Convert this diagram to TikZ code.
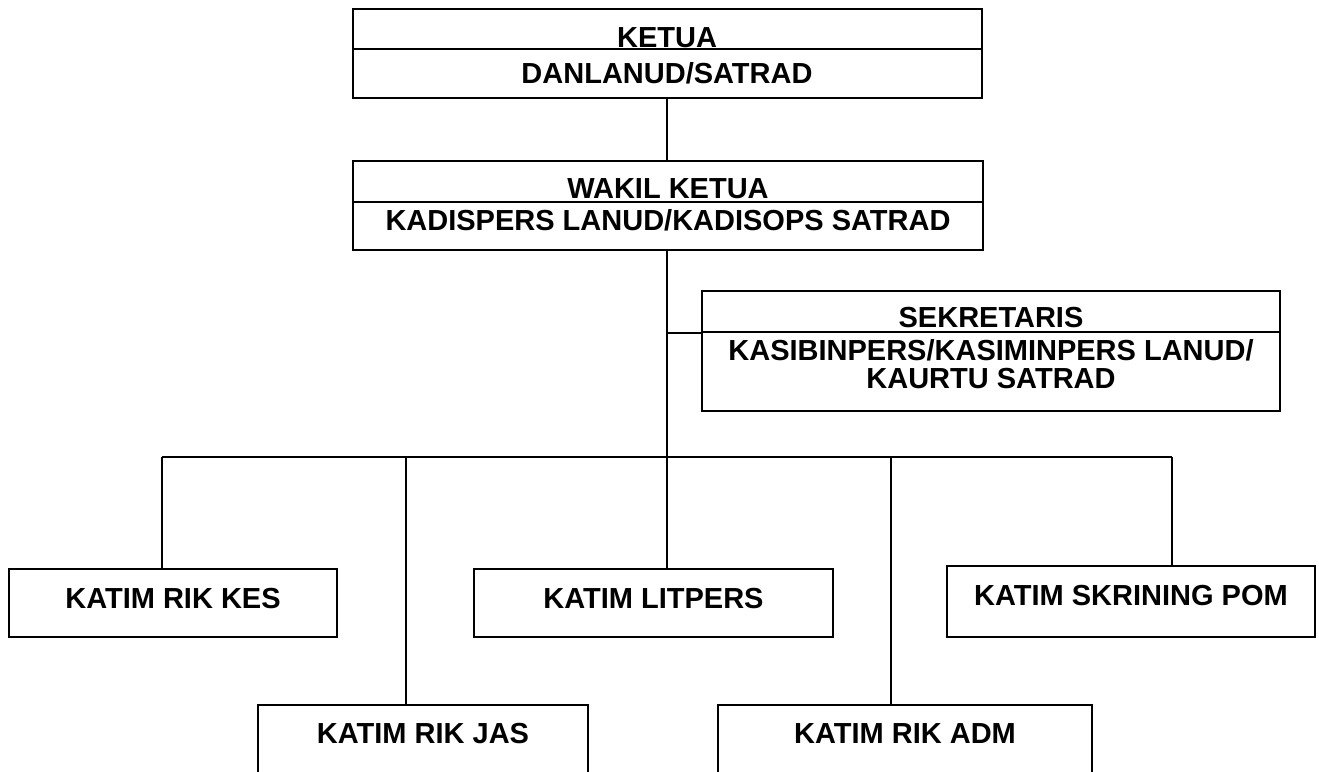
\documentclass[tikz,border=0pt]{standalone}
\usepackage{fontspec}
\setmainfont{Liberation Sans}
\begin{document}
\begin{tikzpicture}[x=1pt,y=-1pt,
  box/.style={draw=black, line width=1.8pt, rectangle, inner sep=0pt},
  lbl/.style={anchor=base, inner sep=0pt, font=\fontsize{29}{34}\selectfont\bfseries},
  conn/.style={draw=black, line width=1.8pt}]
\path[use as bounding box] (0,0) rectangle (1319,771);
\clip (0,0) rectangle (1319,771);
% header boxes
\node[box, minimum width=629pt, minimum height=89pt] (ketua) at (667.5,53.5) {};
\node[box, minimum width=630pt, minimum height=89pt] (wakil) at (668,205.5) {};
\node[box, minimum width=578pt, minimum height=120pt] (sekr) at (991,351) {};
\draw[conn] (ketua.west |- 0,49) -- (ketua.east |- 0,49);
\draw[conn] (wakil.west |- 0,202) -- (wakil.east |- 0,202);
\draw[conn] (sekr.west |- 0,332) -- (sekr.east |- 0,332);
\node[lbl] (t1) at (667,47) {KETUA};
\node[lbl] (t2) at (667,83) {DANLANUD/SATRAD};
\node[lbl] (t3) at (668,198) {WAKIL KETUA};
\node[lbl] (t4) at (668,230) {KADISPERS LANUD/KADISOPS SATRAD};
\node[lbl] (t5) at (991,327) {SEKRETARIS};
\node[lbl] (t6) at (991,360) {KASIBINPERS/KASIMINPERS LANUD/};
\node[lbl] (t7) at (991,388) {KAURTU SATRAD};
% lower boxes
\node[box, minimum width=328pt, minimum height=68pt] (kes) at (173,603) {};
\node[box, minimum width=359pt, minimum height=68pt] (lit) at (653.5,603) {};
\node[box, minimum width=368pt, minimum height=71pt] (skr) at (1131,601.5) {};
\node[box, minimum width=330pt, minimum height=95pt] (jas) at (423,752.5) {};
\node[box, minimum width=374pt, minimum height=95pt] (adm) at (905,752.5) {};
\node[lbl] (k1) at (173,608) {KATIM RIK KES};
\node[lbl] (k2) at (653.5,608) {KATIM LITPERS};
\node[lbl] (k3) at (1131,605) {KATIM SKRINING POM};
\node[lbl] (k4) at (423,743) {KATIM RIK JAS};
\node[lbl] (k5) at (905,743) {KATIM RIK ADM};
% connectors
\coordinate (sekj) at (667,333);
\coordinate (dKes) at (162,457);
\coordinate (dJas) at (406,457);
\coordinate (dLit) at (667,457);
\coordinate (dAdm) at (891,457);
\coordinate (dSkr) at (1172,457);
\draw[conn] (ketua.south -| sekj) -- (wakil.north -| sekj);
\draw[conn] (wakil.south -| sekj) -- (dLit);
\draw[conn] (sekj) -- (sekr.west |- sekj);
\draw[conn] (dKes) -- (dSkr);
\draw[conn] (dKes) -- (dKes |- kes.north);
\draw[conn] (dJas) -- (dJas |- jas.north);
\draw[conn] (dLit) -- (dLit |- lit.north);
\draw[conn] (dAdm) -- (dAdm |- adm.north);
\draw[conn] (dSkr) -- (dSkr |- skr.north);
\end{tikzpicture}
\end{document}
